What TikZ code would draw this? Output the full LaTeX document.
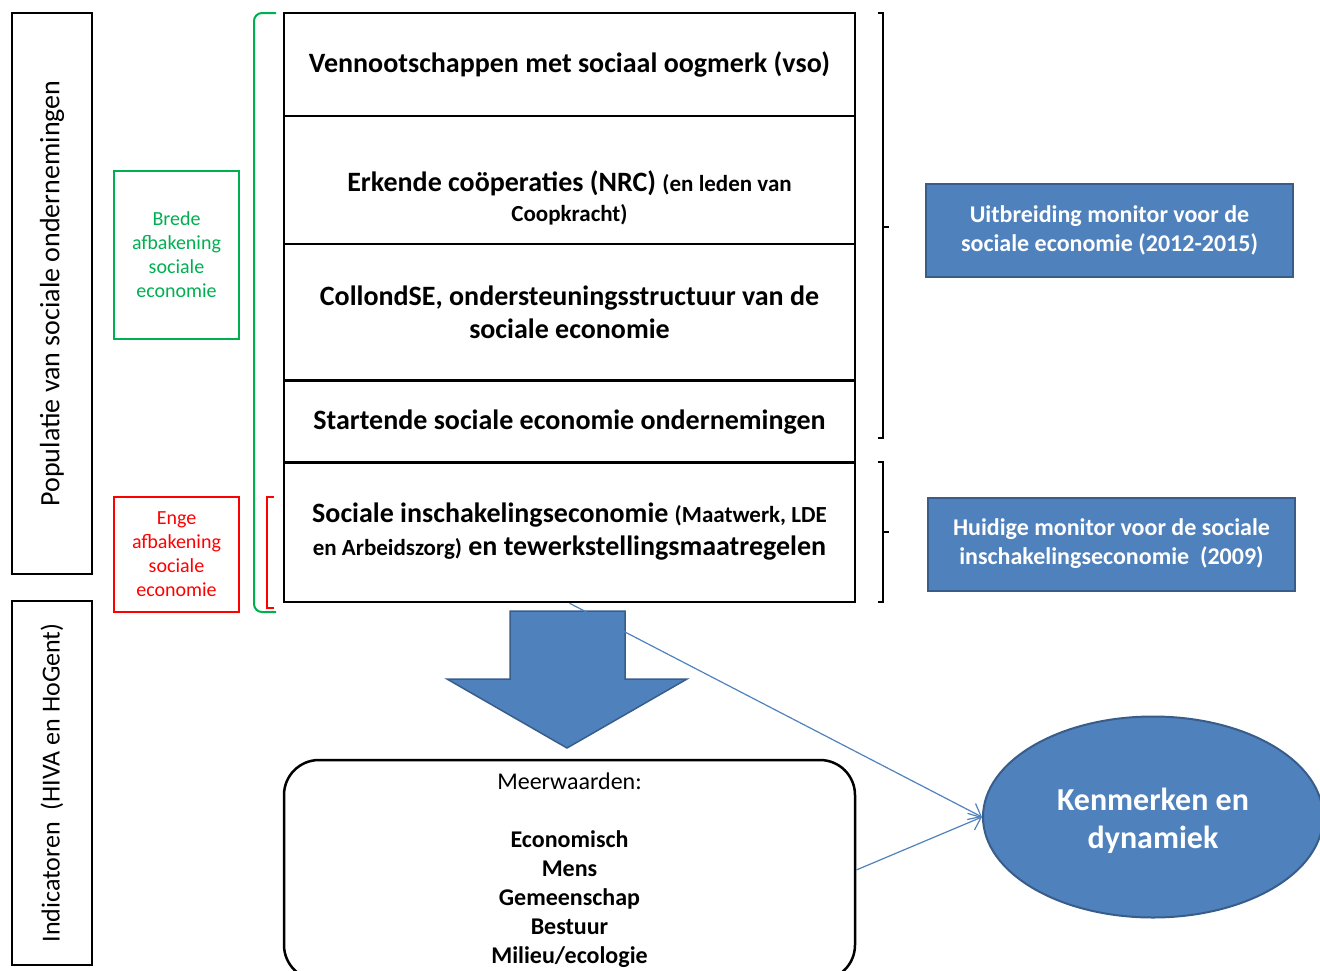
\documentclass[tikz,border=0pt]{standalone}
\usepackage{fontspec}
\setmainfont{Carlito}
\usetikzlibrary{arrows.meta,shapes.geometric}
\definecolor{accentblue}{RGB}{79,129,189}
\definecolor{edgeblue}{RGB}{56,93,138}
\definecolor{bredegreen}{RGB}{0,176,80}
\definecolor{engered}{RGB}{255,0,0}
\newcommand{\smalltxt}{\fontsize{23}{30}\selectfont}

\begin{document}
\begin{tikzpicture}[x=1pt,y=-1pt,
	layer/.style={draw=black,line width=2.5pt,minimum width=571pt,inner sep=0pt,align=center,font=\fontsize{28}{33}\selectfont\bfseries},
	sidelabel/.style={draw=black,line width=2.5pt,rotate=90,minimum height=80pt,inner sep=0pt},
	scopebox/.style={line width=2pt,minimum width=125pt,inner sep=0pt,align=center,font=\fontsize{20}{24}\selectfont},
	monitor/.style={fill=accentblue,draw=edgeblue,line width=2pt,text=white,minimum width=367pt,minimum height=93pt,inner sep=0pt,align=center,font=\fontsize{24}{29}\selectfont\bfseries},
	flow/.style={draw=accentblue,line width=1.2pt,-{Straight Barb[length=11pt,width=18pt]}}]
		
		\useasboundingbox (0,0) rectangle (1320,970);
		\clip (0,0) rectangle (1320,970);
		
		\node[sidelabel,minimum width=561pt,font=\fontsize{28}{32}\selectfont] (populatie) at (52,293.5) {Populatie van sociale ondernemingen};
		\node[sidelabel,minimum width=364pt,font=\fontsize{26}{30}\selectfont] (indicatoren) at (52,783) {Indicatoren\ \ (HIVA en HoGent)};
		
		\node[scopebox,draw=bredegreen,text=bredegreen,minimum height=168pt] (brede) at (176.5,255) {Brede\\afbakening\\sociale\\economie};
		\node[scopebox,draw=engered,text=engered,minimum height=115pt] (enge) at (176.5,554.5) {Enge\\afbakening\\sociale\\economie};
		
		\draw[bredegreen,line width=2pt,rounded corners=8pt] (276,13) -- (254,13) -- (254,612) -- (276,612);
		\draw[engered,line width=2pt] (274,497) -- (267,497) -- (267,608) -- (274,608);
		
		\node[layer,minimum height=103pt] (vso) at (569.5,64.5) {Vennootschappen met sociaal oogmerk (vso)};
		\node[layer,minimum height=128pt] (nrc) at (569.5,180) {};
		\node[align=center,inner sep=0pt,font=\fontsize{28}{30}\selectfont\bfseries] (nrctext) at (569.5,198) {Erkende coöperaties (NRC) {\smalltxt(en leden van}\\{\smalltxt Coopkracht)}};
		\node[layer,minimum height=136pt] (collond) at (569.5,312) {CollondSE, ondersteuningsstructuur van de\\sociale economie};
		\node[layer,minimum height=82pt] (startend) at (569.5,422) {Startende sociale economie ondernemingen};
		\node[layer,minimum height=140pt] (inschakeling) at (569.5,532) {Sociale inschakelingseconomie {\smalltxt(Maatwerk, LDE}\\{\smalltxt en Arbeidszorg)} en tewerkstellingsmaatregelen};
		
		\draw[line width=2pt] (878,13) -- (883,13) -- (883,438) -- (878,438);
		\draw[line width=2pt] (883,227) -- (889,227);
		\draw[line width=2pt] (878,462) -- (883,462) -- (883,602) -- (878,602);
		\draw[line width=2pt] (883,532) -- (889,532);
		
		\node[monitor] (uitbreiding) at (1109.5,230.5) {Uitbreiding monitor voor de\\sociale economie (2012-2015)};
		\node[monitor] (huidige) at (1111.5,544) {Huidige monitor voor de sociale\\inschakelingseconomie\ \ (2009)};
		
		\filldraw[fill=accentblue,draw=edgeblue,line width=1.5pt] (510,611) -- (625,611) -- (625,679) -- (687,679) -- (567,748) -- (447,679) -- (510,679) -- cycle;
		
		\node[draw=black,line width=2.5pt,rounded corners=35pt,minimum width=571pt,minimum height=220pt,inner sep=0pt,align=center,font=\fontsize{24}{29}\selectfont] (meerwaarden) at (569.5,870) {Meerwaarden:\\[29pt]\textbf{Economisch}\\\textbf{Mens}\\\textbf{Gemeenschap}\\\textbf{Bestuur}\\\textbf{Milieu/ecologie}};
		
		\node[ellipse,fill=accentblue,draw=edgeblue,line width=2pt,minimum width=340pt,minimum height=201pt,text=white,align=center,font=\fontsize{32}{38}\selectfont\bfseries] (kenmerken) at (1153,817) {\\[-8pt]Kenmerken en\\dynamiek};
		
		\draw[flow] (inschakeling.south) -- (kenmerken.west);
		\draw[flow] (meerwaarden.east) -- (kenmerken.west);
		
	\end{tikzpicture}
\end{document}
